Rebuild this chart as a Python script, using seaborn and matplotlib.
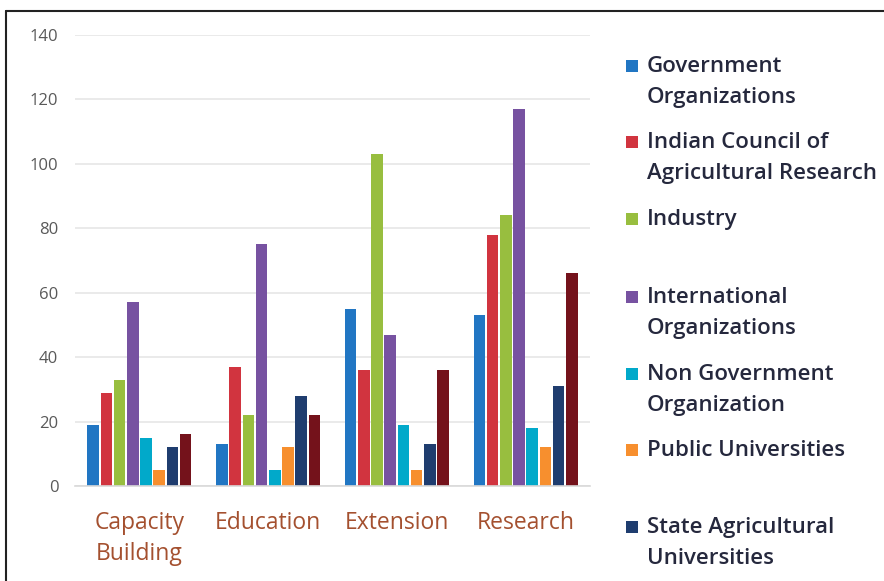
import matplotlib
matplotlib.use("Agg")
import matplotlib.pyplot as plt
import seaborn as sns
import pandas as pd
from matplotlib.lines import Line2D
from matplotlib.patches import Rectangle

categories = ["Capacity\nBuilding", "Education", "Extension", "Research"]
series = ["Government Organizations", "Indian Council of Agricultural Research",
          "Industry", "International Organizations", "Non Government Organization",
          "Public Universities", "State Agricultural Universities", "Others"]
legend_labels = ["Government\nOrganizations", "Indian Council of\nAgricultural Research",
                 "Industry", "International\nOrganizations", "Non Government\nOrganization",
                 "Public Universities", "State Agricultural\nUniversities"]
gov = [19, 13, 55, 53]
icar = [29, 37, 36, 78]
industry = [33, 22, 103, 84]
intl = [57, 75, 47, 117]
ngo = [15, 5, 19, 18]
public_univ = [5, 12, 5, 12]
sau = [12, 28, 13, 31]
others = [16, 22, 36, 66]
values = [gov, icar, industry, intl, ngo, public_univ, sau, others]
colors = ["#2176C3", "#D1343F", "#98BE3F", "#7752A1", "#01A9CA", "#F78F2E", "#1F3D6F", "#74121B"]

rows = []
for s, vals in zip(series, values):
    for c, v in zip(categories, vals):
        rows.append({"Category": c, "Series": s, "Value": v})
df = pd.DataFrame(rows)

sns.set_style("white")
plt.rcParams["font.family"] = ["Open Sans", "DejaVu Sans"]

W, H = 884, 581
fig = plt.figure(figsize=(W / 100, H / 100), dpi=100)
ax = fig.add_axes([75 / W, (H - 486) / H, 515 / W, 451 / H])

sns.barplot(data=df, x="Category", y="Value", hue="Series", hue_order=series,
            palette=colors, order=categories, width=0.82, gap=0.12,
            saturation=1, edgecolor="none", ax=ax, legend=False)

ax.set_ylim(0, 140)
ax.set_xlim(-0.5, 3.5)
ax.set_yticks(range(0, 141, 20))
ax.yaxis.grid(True, color="#E6E6E6", linewidth=1.2)
ax.set_axisbelow(True)
for sp in ["top", "right", "left"]:
    ax.spines[sp].set_visible(False)
ax.spines["bottom"].set_color("#D9D9D9")
ax.spines["bottom"].set_linewidth(1.2)
ax.set_xlabel("")
ax.set_ylabel("")
ax.tick_params(axis="y", length=0, labelsize=12, labelcolor="#595959", pad=12)
ax.tick_params(axis="x", which="major", length=0, labelsize=16.5, labelcolor="#A4502F", pad=18)
ax.set_xticks([-0.5, 0.5, 1.5, 2.5, 3.5], minor=True)
ax.tick_params(axis="x", which="minor", length=5, color="#D9D9D9", width=1.2)
for lab in ax.get_xticklabels():
    lab.set_linespacing(1.4)
    lab.set_va("top")

# Legend drawn entry by entry (Excel-like layout)
legend_y = [66, 142, 219, 297, 374, 450, 527]
for lab, col, yc in zip(legend_labels, colors, legend_y):
    fig.patches.append(Rectangle((626 / W, (H - yc - 6) / H), 12 / W, 12 / H,
                                 transform=fig.transFigure, facecolor=col,
                                 edgecolor="none"))
    fig.text(647 / W, (H - yc + 10) / H, lab, fontsize=16, color="#25283D",
             fontweight="semibold", va="top", ha="left", linespacing=1.65)

# Frame border
fig.add_artist(Line2D([6 / W, 1.0], [(H - 11) / H] * 2, color="#222222", linewidth=1.5,
                      transform=fig.transFigure))
fig.add_artist(Line2D([6 / W, 6 / W], [0, (H - 11) / H], color="#222222", linewidth=1.5,
                      transform=fig.transFigure))

fig.savefig("out.png", dpi=100)
